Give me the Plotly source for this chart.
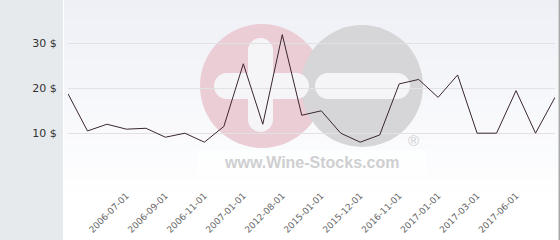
import plotly.graph_objects as go

dates = ["2006-04-01", "2006-05-01", "2006-06-01", "2006-07-01", "2006-08-01",
         "2006-09-01", "2006-10-01", "2006-11-01", "2006-12-01", "2007-01-01",
         "2010-06-01", "2012-08-01", "2013-10-01", "2015-01-01", "2015-06-01",
         "2015-12-01", "2016-06-01", "2016-11-01", "2016-12-01", "2017-01-01",
         "2017-02-01", "2017-03-01", "2017-05-01", "2017-06-01", "2017-07-01",
         "2017-08-01"]
prices = [18.8, 10.5, 12.0, 10.9, 11.1, 9.1, 10.0, 8.0, 11.5, 25.5,
          12.0, 32.0, 14.0, 15.0, 10.0, 8.0, 9.6, 21.0, 22.0, 18.0,
          23.0, 10.0, 10.0, 19.5, 10.0, 18.0]
tick_labels = ["2006-07-01", "2006-09-01", "2006-11-01", "2007-01-01", "2012-08-01",
               "2015-01-01", "2015-12-01", "2016-11-01", "2017-01-01", "2017-03-01",
               "2017-06-01"]
y_ticks = [10, 20, 30]

W, H = 560, 240
ML, MR, MT, MB = 68, 5, 0, 62
PW, PH = W - ML - MR, H - MT - MB


def px(x):
    return (x - ML) / PW


def py(y):
    return (MT + PH - y) / PH


shapes = []


def rect(x0, y0, x1, y1, color, opacity=1.0):
    shapes.append(dict(type="rect", xref="paper", yref="paper", layer="below",
                       x0=px(x0), x1=px(x1), y0=py(y1), y1=py(y0),
                       fillcolor=color, opacity=opacity, line=dict(width=0)))


def circ(cx, cy, r, color, opacity=1.0):
    shapes.append(dict(type="circle", xref="paper", yref="paper", layer="below",
                       x0=px(cx - r), x1=px(cx + r), y0=py(cy + r), y1=py(cy - r),
                       fillcolor=color, opacity=opacity, line=dict(width=0)))


def hbar(x0, x1, yc, h, color):
    r = h / 2
    rect(x0 + r, yc - r, x1 - r, yc + r, color)
    circ(x0 + r, yc, r, color)
    circ(x1 - r, yc, r, color)


def vbar(xc, y0, y1, w, color):
    r = w / 2
    rect(xc - r, y0 + r, xc + r, y1 - r, color)
    circ(xc, y0 + r, r, color)
    circ(xc, y1 - r, r, color)


# left panel
rect(0, 0, 63, H, "#e6eaed")
# gradient plot panel
n = 24
top = (238, 240, 246)
bot = (255, 255, 255)
for i in range(n):
    t = min(1.0, i / (n * 0.8))
    c = tuple(round(top[k] + (bot[k] - top[k]) * t) for k in range(3))
    rect(64, i * H / n, 558, (i + 1) * H / n + 0.5, "rgb(%d,%d,%d)" % c)
# right border
rect(558.5, 0, 560, H, "#a8a8a8")

# watermark
rect(197, 150, 427, 175, "#ffffff", 0.6)
circ(262, 86, 62, "#ebcdd5")
circ(362, 86, 61, "#d6d6d8")
wb = "#f5f5f8"
vbar(260.5, 38, 132, 25, wb)
hbar(214, 309, 86, 26, wb)
hbar(315, 410, 86, 26, wb)

fig = go.Figure()
fig.add_trace(go.Scatter(x=dates, y=prices, mode="lines",
                         line=dict(color="#3a2630", width=1), hoverinfo="skip"))

fig.add_annotation(xref="paper", yref="paper", x=px(311), y=py(162),
                   xanchor="center", yanchor="middle",
                   text="<b>www.Wine-Stocks.com</b>", showarrow=False,
                   font=dict(family="Liberation Sans, Arial", size=16, color="#cfcfd1"))
fig.add_annotation(xref="paper", yref="paper", x=px(413), y=py(140),
                   xanchor="center", yanchor="middle",
                   text="®", showarrow=False,
                   font=dict(family="Liberation Sans, Arial", size=15, color="#cfcfd1"))

fig.update_layout(
    width=W, height=H,
    margin=dict(l=ML, r=MR, t=MT, b=MB, pad=0),
    paper_bgcolor="white",
    plot_bgcolor="rgba(0,0,0,0)",
    showlegend=False,
    shapes=shapes,
    font=dict(family="DejaVu Sans"),
)
fig.update_xaxes(type="category", range=[0, len(dates) - 1],
                 tickmode="array", tickvals=tick_labels, ticktext=tick_labels,
                 tickangle=-45, tickfont=dict(size=9, color="#666666"),
                 showgrid=False, zeroline=False, showline=False,
                 ticks="outside", ticklen=8, tickcolor="rgba(0,0,0,0)")
fig.update_yaxes(range=[0, PH / 4.48], tickmode="array", tickvals=[0] + y_ticks,
                 ticktext=[""] + ["%d $" % v for v in y_ticks],
                 tickfont=dict(size=11, color="#333333"),
                 showgrid=True, gridcolor="#e2e2e4", gridwidth=1,
                 zeroline=False, showline=False, ticks="outside", ticklen=8,
                 tickcolor="rgba(0,0,0,0)")

fig.write_html("out.html")
